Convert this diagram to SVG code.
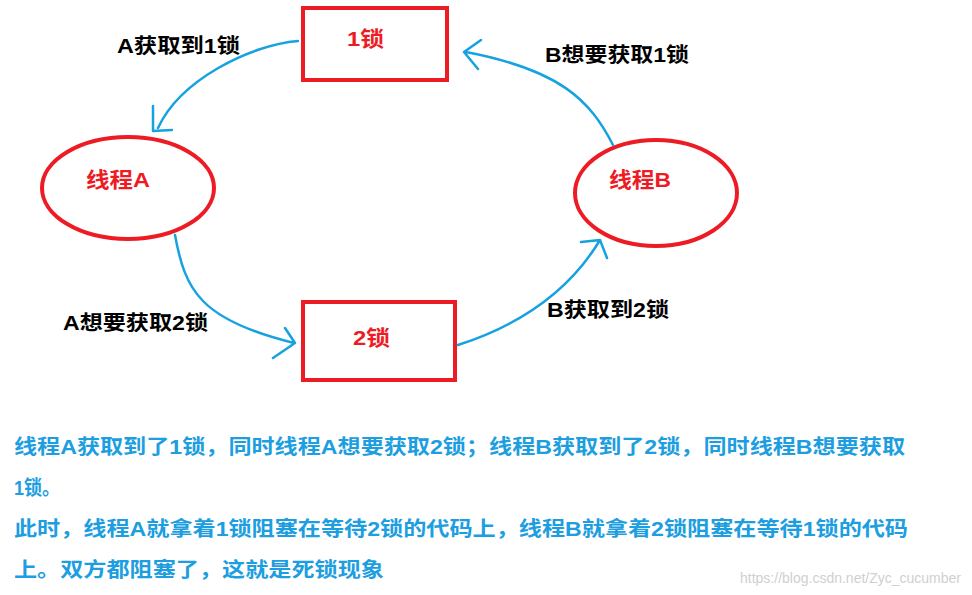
<svg xmlns="http://www.w3.org/2000/svg" width="972" height="595" viewBox="0 0 972 595">
<style>
.n{fill:none;stroke:#ed1c24;stroke-width:4}
.nt{font-family:"Liberation Sans","Noto Sans CJK SC",sans-serif;font-weight:bold;font-size:21px;fill:#ed1c24}
.c{fill:none;stroke:#16a2e0;stroke-width:2.5;stroke-linecap:round;stroke-linejoin:round}
.l{font-family:"Liberation Sans","Noto Sans CJK SC",sans-serif;font-weight:bold;font-size:20px;fill:#000}
.b{font-family:"Liberation Sans","Noto Sans CJK SC",sans-serif;font-weight:bold;font-size:20px;fill:#1c9ee0}
</style>
<rect width="972" height="595" fill="#fff"/>
<g id="lock1"><rect class="n" x="303" y="8" width="144" height="72"/><text class="nt" x="347" y="46" textLength="37" lengthAdjust="spacingAndGlyphs">1锁</text></g>
<g id="lock2"><rect class="n" x="303" y="302" width="152" height="78"/><text class="nt" x="353" y="345" textLength="37" lengthAdjust="spacingAndGlyphs">2锁</text></g>
<g id="threadA"><ellipse class="n" cx="128" cy="188" rx="86" ry="51"/><text class="nt" x="86" y="187" textLength="64" lengthAdjust="spacingAndGlyphs">线程A</text></g>
<g id="threadB"><ellipse class="n" cx="656" cy="193" rx="81" ry="53"/><text class="nt" x="609" y="187" textLength="62" lengthAdjust="spacingAndGlyphs">线程B</text></g>
<g id="connectors">
<path class="c" d="M298,41 C250,45 180,80 158,128 M153,106 L153,131 L172,130"/>
<path class="c" d="M175,235 C185,290 200,320 294,343 M285,328 L295,343 L273,358"/>
<path class="c" d="M458,345 C520,325 570,290 600,240 M581,242 L600,240 L607,258"/>
<path class="c" d="M613,145 C590,100 560,70 466,52 M481,40 L464,52 L478,69"/>
</g>
<text class="l" x="117" y="53" textLength="123" lengthAdjust="spacingAndGlyphs">A获取到1锁</text>
<text class="l" x="63" y="330" textLength="145" lengthAdjust="spacingAndGlyphs">A想要获取2锁</text>
<text class="l" x="545" y="62" textLength="144" lengthAdjust="spacingAndGlyphs">B想要获取1锁</text>
<text class="l" x="547" y="317" textLength="122" lengthAdjust="spacingAndGlyphs">B获取到2锁</text>
<text class="b" x="14" y="454" textLength="891" lengthAdjust="spacingAndGlyphs">线程A获取到了1锁，同时线程A想要获取2锁；线程B获取到了2锁，同时线程B想要获取</text>
<text class="b" x="14" y="495" textLength="46" lengthAdjust="spacingAndGlyphs">1锁。</text>
<text class="b" x="14" y="536" textLength="894" lengthAdjust="spacingAndGlyphs">此时，线程A就拿着1锁阻塞在等待2锁的代码上，线程B就拿着2锁阻塞在等待1锁的代码</text>
<text class="b" x="14" y="577" textLength="370" lengthAdjust="spacingAndGlyphs">上。双方都阻塞了，这就是死锁现象</text>
<text x="961" y="583" text-anchor="end" font-family="Liberation Sans,sans-serif" font-size="14" fill="#d0d0d0">https://blog.csdn.net/Zyc_cucumber</text>
</svg>
